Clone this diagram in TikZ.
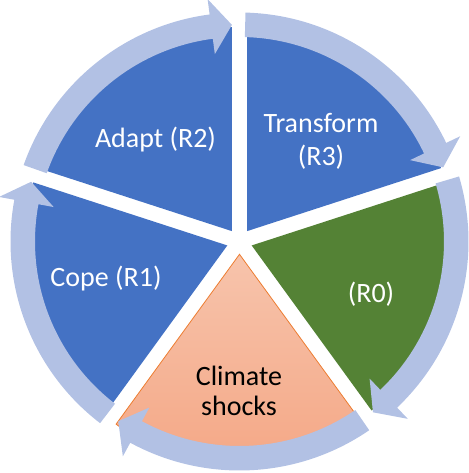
\documentclass[tikz,border=0pt]{standalone}
\usepackage{fontspec}
\setmainfont{Carlito}
\definecolor{secblue}{HTML}{4472C4}
\definecolor{secgreen}{HTML}{548235}
\definecolor{arrowcol}{RGB}{178,193,228}
\definecolor{shocktop}{RGB}{247,196,172}
\definecolor{shockbot}{RGB}{244,166,132}
\definecolor{shockline}{HTML}{ED7D31}
\begin{document}
\begin{tikzpicture}[x=1pt,y=1pt,
  lbl/.style={font=\fontsize{28}{33.6}\selectfont, inner sep=0pt, anchor=base},
  wlbl/.style={lbl, text=white},
  blbl/.style={lbl, text=black}]
\useasboundingbox (-239.5,-231.5) rectangle (228.5,241.5);
% exploded sectors
\fill[secblue]  (126:12.8) -- ++(90:204)  arc[start angle=90,  end angle=162, radius=204] -- cycle;
\fill[secblue]  (54:12.8)  -- ++(18:204)  arc[start angle=18,  end angle=90,  radius=204] -- cycle;
\fill[secblue]  (198:12.8) -- ++(162:204) arc[start angle=162, end angle=234, radius=204] -- cycle;
\fill[secgreen] (-18:12.8) -- ++(-54:204) arc[start angle=-54, end angle=18,  radius=204] -- cycle;
\shade[top color=shocktop, bottom color=shockbot, draw=shockline, line width=0.8pt]
  (-90:12.8) -- ++(-126:210) arc[start angle=-126, end angle=-54, radius=210] -- cycle;
% cycle arrows
\foreach \s/\e in {162/90, 90/18, 18/-54, -54/-126, -126/-198}{
  \pgfmathsetmacro\ta{\s-1.5}
  \pgfmathsetmacro\tb{\e+7.5}
  \pgfmathsetmacro\tc{\e+2}
  \fill[arrowcol] (\ta:229) arc[start angle=\ta, end angle=\tb, radius=229]
    -- (\tb:244.5) -- (\tc:216.75) -- (\tb:189) -- (\tb:204.5)
    arc[start angle=\tb, end angle=\ta, radius=204.5] -- cycle;
}
% labels
\node[wlbl] (adapt) at (-84,93.5) {Adapt (R2)};
\node[wlbl] (tr1) at (81.5,108.5) {Transform};
\node[wlbl] (tr2) at (81.5,75.5) {(R3)};
\node[wlbl] (cope) at (-133.5,-45.5) {Cope (R1)};
\node[wlbl] (r0) at (131.5,-60.5) {(R0)};
\node[blbl] (cl1) at (-0.5,-143.5) {Climate};
\node[blbl] (cl2) at (-0.5,-173.5) {shocks};
\end{tikzpicture}
\end{document}
